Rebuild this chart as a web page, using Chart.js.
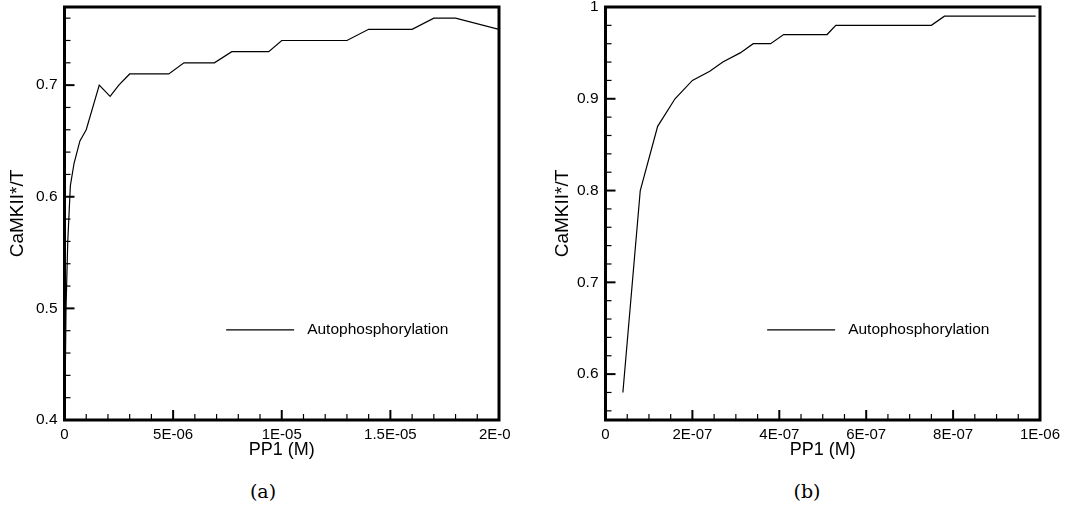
<!DOCTYPE html>
<html>
<head>
<meta charset="utf-8">
<script src="https://cdn.jsdelivr.net/npm/chart.js@4.4.1/dist/chart.umd.min.js"></script>
<style>
  body { margin: 0; background: #fff; width: 1091px; height: 510px; position: relative; overflow: hidden; }
  .panel { position: absolute; top: 0; height: 470px; overflow: hidden; }
  #wrapA { left: 0; width: 510px; }
  #wrapB { left: 545px; width: 546px; }
  canvas { display: block; }
  .cap { position: absolute; top: 480px; width: 100px; text-align: center;
         font: 19px "DejaVu Serif", serif; line-height: 22px; color: #000; }
</style>
</head>
<body>
<div class="panel" id="wrapA"><canvas id="chartA" width="545" height="470"></canvas></div>
<div class="panel" id="wrapB"><canvas id="chartB" width="546" height="470"></canvas></div>
<div class="cap" style="left:213px">(a)</div>
<div class="cap" style="left:757px">(b)</div>
<script>
// panel (a)
const ppA = [3e-8, 7e-8, 1.5e-7, 2.7e-7, 4.4e-7, 7.1e-7, 1e-6, 1.6e-6, 2.1e-6, 2.5e-6, 3e-6, 4.8e-6,
             5.5e-6, 6.9e-6, 7.7e-6, 9.4e-6, 1e-5, 1.3e-5, 1.4e-5, 1.6e-5, 1.7e-5, 1.8e-5, 2e-5];
const camA = [0.43, 0.50, 0.56, 0.61, 0.63, 0.65, 0.66, 0.70, 0.69, 0.70, 0.71, 0.71,
              0.72, 0.72, 0.73, 0.73, 0.74, 0.74, 0.75, 0.75, 0.76, 0.76, 0.75];
const xTicksA = [0, 5e-6, 1e-5, 1.5e-5, 2e-5];
const xLabelsA = ['0', '5E-06', '1E-05', '1.5E-05', '2E-05'];
const yTicksA = [0.4, 0.5, 0.6, 0.7];
const yLabelsA = ['0.4', '0.5', '0.6', '0.7'];

// panel (b)
const ppB = [4e-8, 8e-8, 1.2e-7, 1.6e-7, 2e-7, 2.4e-7, 2.7e-7, 3.1e-7, 3.4e-7, 3.8e-7, 4.1e-7,
             5.1e-7, 5.3e-7, 7.5e-7, 7.8e-7, 9.9e-7];
const camB = [0.58, 0.80, 0.87, 0.90, 0.92, 0.93, 0.94, 0.95, 0.96, 0.96, 0.97,
              0.97, 0.98, 0.98, 0.99, 0.99];
const xTicksB = [0, 2e-7, 4e-7, 6e-7, 8e-7, 1e-6];
const xLabelsB = ['0', '2E-07', '4E-07', '6E-07', '8E-07', '1E-06'];
const yTicksB = [0.6, 0.7, 0.8, 0.9, 1];
const yLabelsB = ['0.6', '0.7', '0.8', '0.9', '1'];

const seriesName = 'Autophosphorylation';

Chart.defaults.font.family = '"Liberation Sans", Arial, sans-serif';
Chart.defaults.color = '#000';

// frame box, inward major/minor ticks and the little legend
const frameTicks = {
  id: 'frameTicks',
  afterDraw(chart, args, o) {
    const {ctx, chartArea: a, scales} = chart;
    ctx.save();
    ctx.strokeStyle = '#000';

    const marks = (scale, step, majors, horiz) => {
      let v = Math.ceil(scale.min / step - 1e-6) * step;
      for (; v <= scale.max + step * 1e-6; v += step) {
        const major = majors.some(m => Math.abs(m - v) < step * 1e-3);
        const len = major ? 10 : 6;
        ctx.lineWidth = major ? 2 : 1.2;
        const p = scale.getPixelForValue(v);
        ctx.beginPath();
        if (horiz) { ctx.moveTo(p, a.bottom); ctx.lineTo(p, a.bottom - len); }
        else { ctx.moveTo(a.left, p); ctx.lineTo(a.left + len, p); }
        ctx.stroke();
      }
    };
    marks(scales.x, o.xStep, o.xMajor, true);
    marks(scales.y, o.yStep, o.yMajor, false);

    ctx.lineWidth = 3;
    ctx.strokeRect(a.left, a.top, a.right - a.left, a.bottom - a.top);

    const w = a.right - a.left, h = a.bottom - a.top;
    const lx = a.left + 0.372 * w, ly = a.top + 0.782 * h;
    ctx.lineWidth = 1.2;
    ctx.beginPath();
    ctx.moveTo(lx, ly);
    ctx.lineTo(lx + 68, ly);
    ctx.stroke();
    ctx.fillStyle = '#000';
    ctx.font = '15.5px "Liberation Sans", Arial, sans-serif';
    ctx.textBaseline = 'middle';
    ctx.fillText(chart.data.datasets[0].label, lx + 81, ly);
    ctx.restore();
  }
};

function makeChart(id, xs, ys, c) {
  return new Chart(document.getElementById(id), {
    type: 'line',
    data: {
      datasets: [{
        label: seriesName,
        data: xs.map((v, i) => ({x: v, y: ys[i]})),
        borderColor: '#000',
        borderWidth: 1.2,
        pointRadius: 0,
        tension: 0
      }]
    },
    options: {
      responsive: false,
      animation: false,
      layout: { padding: { left: 0, top: 7, right: c.padRight, bottom: 0 } },
      plugins: {
        legend: { display: false },
        tooltip: { enabled: false },
        frameTicks: { xStep: c.xStep, yStep: c.yStep, xMajor: c.xTicks, yMajor: c.yTicks }
      },
      scales: {
        x: {
          type: 'linear', min: 0, max: c.xMax,
          grid: { display: false, drawTicks: false }, border: { display: false },
          afterBuildTicks: s => { s.ticks = c.xTicks.map(v => ({value: v})); },
          afterFit: s => { s.height = 50; s.paddingLeft = 0; s.paddingRight = 0; },
          ticks: { autoSkip: false, maxRotation: 0, padding: 6, font: { size: 15 },
                   callback: (v, i) => c.xLabels[i] },
          title: { display: true, text: 'PP1 (M)', font: { size: 18 }, padding: { top: 0, bottom: 9 } }
        },
        y: {
          min: c.yMin, max: c.yMax,
          grid: { display: false, drawTicks: false }, border: { display: false },
          afterBuildTicks: s => { s.ticks = c.yTicks.map(v => ({value: v})); },
          afterFit: s => { s.width = c.yWidth; s.paddingTop = 0; s.paddingBottom = 0; },
          ticks: { padding: 7, font: { size: 15.5 }, callback: (v, i) => c.yLabels[i] },
          title: { display: true, text: 'CaMKII*/T', font: { size: 19 }, padding: { top: 6, bottom: 0 } }
        }
      }
    },
    plugins: [frameTicks]
  });
}

makeChart('chartA', ppA, camA, {
  xMax: 2e-5, yMin: 0.4, yMax: 0.77, xStep: 1e-6, yStep: 0.02,
  xTicks: xTicksA, xLabels: xLabelsA, yTicks: yTicksA, yLabels: yLabelsA,
  yWidth: 64.5, padRight: 46
});

makeChart('chartB', ppB, camB, {
  xMax: 1e-6, yMin: 0.55, yMax: 1, xStep: 5e-8, yStep: 0.02,
  xTicks: xTicksB, xLabels: xLabelsB, yTicks: yTicksB, yLabels: yLabelsB,
  yWidth: 60.5, padRight: 51
});
</script>
</body>
</html>
